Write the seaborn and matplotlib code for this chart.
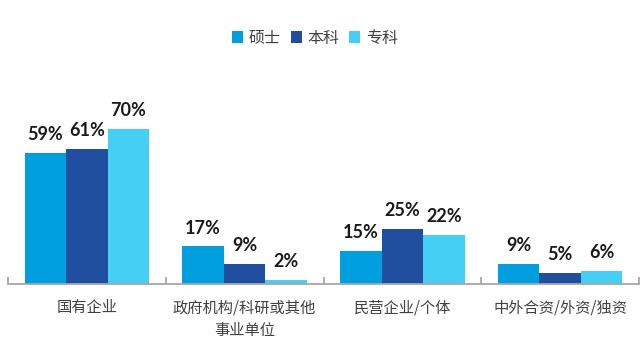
import matplotlib
matplotlib.use("Agg")
import matplotlib.pyplot as plt
from matplotlib.patches import Patch
from matplotlib.ticker import FixedLocator, NullFormatter
import seaborn as sns
import pandas as pd

categories = ["国有企业", "政府机构/科研或其他\n事业单位", "民营企业/个体", "中外合资/外资/独资"]
degrees = ["硕士", "本科", "专科"]
master = [59, 17, 15, 9]
bachelor = [61, 9, 25, 5]
college = [70, 2, 22, 6]
colors = ["#009FE0", "#214FA0", "#45CFF4"]

rows = []
for deg, vals in zip(degrees, [master, bachelor, college]):
    for cat, v in zip(categories, vals):
        rows.append({"category": cat, "degree": deg, "value": v})
df = pd.DataFrame(rows)

sns.set_theme(style="white")
plt.rcParams["font.family"] = ["Noto Sans CJK SC", "DejaVu Sans"]

fig = plt.figure(figsize=(6.41, 3.41), dpi=100)
W, H = 641, 341
ax = fig.add_axes([8 / W, 1 - 284 / H, (639 - 8) / W, (284 - 62) / H])

sns.barplot(data=df, x="category", y="value", hue="degree", order=categories,
            hue_order=degrees, palette=colors, width=0.79, gap=0,
            saturation=1, linewidth=0, ax=ax, legend=False)

ax.set_xlim(-0.5, len(categories) - 0.5)
ax.set_ylim(0, 100)
ax.set_xlabel("")
ax.set_ylabel("")
ax.set_yticks([])

for side in ["top", "right", "left"]:
    ax.spines[side].set_visible(False)
ax.spines["bottom"].set_color("#A6A6A6")
ax.spines["bottom"].set_linewidth(1.3)

# category labels under the centres, boundary ticks pointing up
ax.set_xticks(range(len(categories)))
ax.set_xticklabels(categories, fontsize=11, color="#404040", linespacing=1.45)
ax.tick_params(axis="x", which="major", length=0, pad=11)
ax.xaxis.set_minor_locator(FixedLocator([i - 0.5 for i in range(len(categories) + 1)]))
ax.xaxis.set_minor_formatter(NullFormatter())
ax.tick_params(axis="x", which="minor", direction="in", length=5, width=1.3,
               color="#A6A6A6", bottom=True)

for container in ax.containers:
    ax.bar_label(container, fmt="%d%%", padding=7, fontsize=13,
                 fontweight="bold", color="#1A1A1A",
                 family=["Lato", "DejaVu Sans"])

handles = [Patch(facecolor=c, edgecolor="none") for c in colors]
fig.legend(handles, degrees, loc="center", bbox_to_anchor=(315 / W, 1 - 38 / H),
           ncol=3, frameon=False, fontsize=11.5, handlelength=0.7, handleheight=0.7,
           handletextpad=0.35, columnspacing=0.6, labelcolor="#404040")

fig.savefig("out.png", dpi=100)
